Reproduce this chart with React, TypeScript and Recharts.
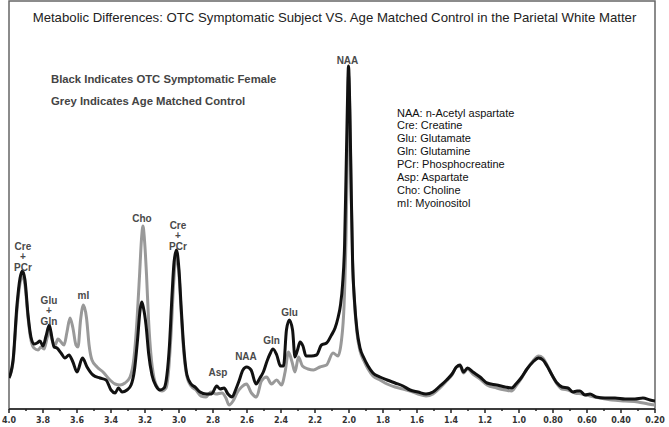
import { LineChart, Line, XAxis, YAxis, ReferenceArea, ReferenceDot } from "recharts";

// chemical shift (ppm) and signal (arbitrary units)
const otcPpm = [
  4.0, 3.976, 3.953, 3.935, 3.921, 3.906, 3.888, 3.871, 3.853, 3.835, 3.818, 3.8, 3.782, 3.763, 3.747, 3.735,
  3.718, 3.694, 3.671, 3.647, 3.624, 3.6, 3.568, 3.541, 3.506, 3.465, 3.429, 3.4, 3.376, 3.356, 3.335, 3.306,
  3.282, 3.262, 3.244, 3.229, 3.219, 3.209, 3.194, 3.179, 3.159, 3.135, 3.112, 3.088, 3.071, 3.056, 3.041, 3.029,
  3.015, 3.0, 2.988, 2.974, 2.953, 2.929, 2.906, 2.876, 2.841, 2.809, 2.778, 2.759, 2.735, 2.712, 2.688, 2.665,
  2.647, 2.624, 2.602, 2.576, 2.547, 2.524, 2.504, 2.482, 2.465, 2.447, 2.425, 2.403, 2.385, 2.368, 2.351, 2.332,
  2.318, 2.303, 2.288, 2.271, 2.253, 2.221, 2.191, 2.162, 2.132, 2.103, 2.082, 2.065, 2.05, 2.038, 2.026, 2.018,
  2.01, 2.003, 1.995, 1.988, 1.979, 1.968, 1.953, 1.935, 1.912, 1.888, 1.859, 1.818, 1.776, 1.729, 1.682, 1.641,
  1.594, 1.547, 1.506, 1.465, 1.426, 1.394, 1.368, 1.347, 1.326, 1.303, 1.271, 1.229, 1.188, 1.132, 1.082, 1.044,
  1.018, 0.988, 0.953, 0.918, 0.885, 0.859, 0.835, 0.806, 0.776, 0.747, 0.712, 0.682, 0.659, 0.641, 0.612, 0.582,
  0.547, 0.494, 0.435, 0.376, 0.318, 0.271, 0.229, 0.2,
];
const otcSignal = [
  31, 49, 104, 131, 138, 129, 94, 72, 65, 66, 68, 63, 73, 84, 71, 62,
  61, 56, 51, 54, 47, 37, 51, 42, 34, 31, 29, 19, 16, 21, 17, 19,
  24, 39, 69, 99, 107, 101, 84, 56, 34, 23, 19, 21, 34, 64, 114, 147,
  159, 139, 104, 66, 34, 25, 22, 17, 15, 15, 23, 20, 21, 15, 12, 20,
  28, 39, 42, 39, 25, 31, 37, 48, 55, 60, 54, 43, 43, 79, 89, 79,
  52, 59, 67, 63, 53, 53, 54, 64, 66, 74, 81, 91, 104, 124, 164, 229,
  299, 343, 299, 229, 149, 109, 79, 61, 51, 43, 36, 32, 29, 26, 23, 19,
  17, 15, 17, 23, 29, 35, 42, 44, 37, 41, 37, 32, 26, 24, 22, 21,
  25, 31, 40, 47, 51, 49, 43, 34, 26, 22, 21, 17, 18, 18, 14, 15,
  12, 11, 11, 10, 10, 11, 9, 8,
];

const controlPpm = [
  4.0, 3.976, 3.953, 3.935, 3.921, 3.906, 3.888, 3.871, 3.853, 3.829, 3.812, 3.794, 3.776, 3.762, 3.747, 3.729,
  3.712, 3.694, 3.676, 3.659, 3.641, 3.624, 3.606, 3.594, 3.579, 3.562, 3.544, 3.529, 3.512, 3.482, 3.447, 3.406,
  3.376, 3.347, 3.318, 3.288, 3.265, 3.247, 3.232, 3.221, 3.212, 3.203, 3.191, 3.179, 3.165, 3.147, 3.124, 3.1,
  3.076, 3.062, 3.047, 3.032, 3.018, 3.003, 2.988, 2.974, 2.953, 2.929, 2.9, 2.871, 2.841, 2.812, 2.782, 2.747,
  2.724, 2.706, 2.682, 2.659, 2.632, 2.603, 2.574, 2.544, 2.515, 2.485, 2.456, 2.426, 2.397, 2.376, 2.356, 2.335,
  2.318, 2.297, 2.274, 2.241, 2.209, 2.171, 2.132, 2.094, 2.065, 2.044, 2.029, 2.018, 2.009, 2.003, 1.995, 1.988,
  1.979, 1.968, 1.953, 1.935, 1.912, 1.888, 1.859, 1.818, 1.776, 1.729, 1.682, 1.641, 1.594, 1.547, 1.506, 1.465,
  1.426, 1.394, 1.368, 1.347, 1.326, 1.303, 1.271, 1.229, 1.188, 1.132, 1.082, 1.044, 1.018, 0.988, 0.953, 0.918,
  0.885, 0.859, 0.835, 0.806, 0.776, 0.747, 0.712, 0.671, 0.629, 0.582, 0.524, 0.453, 0.376, 0.3, 0.241, 0.2,
];
const controlSignal = [
  31, 47, 99, 126, 133, 124, 91, 69, 61, 59, 62, 60, 71, 79, 69, 64,
  70, 67, 64, 77, 91, 81, 64, 62, 89, 104, 91, 64, 49, 42, 37, 29,
  25, 24, 26, 32, 51, 89, 134, 169, 183, 169, 134, 89, 54, 31, 21, 18,
  21, 37, 74, 124, 151, 141, 99, 61, 32, 23, 19, 13, 12, 17, 15, 16,
  11, 4, 8, 16, 22, 25, 16, 12, 28, 32, 25, 29, 24, 37, 57, 47,
  37, 52, 43, 40, 39, 42, 44, 56, 53, 69, 104, 169, 259, 334, 294, 224,
  147, 107, 76, 58, 48, 40, 33, 29, 25, 22, 20, 18, 15, 13, 15, 21,
  28, 34, 42, 43, 36, 40, 35, 30, 24, 21, 19, 18, 23, 30, 40, 48,
  53, 51, 44, 34, 25, 20, 19, 16, 15, 13, 11, 9, 8, 7, 5, 4,
];

const ppmTicks = [
  4.0, 3.9, 3.8, 3.7, 3.6, 3.5, 3.4, 3.3, 3.2, 3.1, 3.0, 2.9, 2.8, 2.7, 2.6, 2.5, 2.4, 2.3, 2.2, 2.1,
  2.0, 1.9, 1.8, 1.7, 1.6, 1.5, 1.4, 1.3, 1.2, 1.1, 1.0, 0.9, 0.8, 0.7, 0.6, 0.5, 0.4, 0.3, 0.2,
];

const peakNames = [
  ["Cre", "+", "PCr"], ["Glu", "+", "Gln"], ["mI"], ["Cho"], ["Cre", "+", "PCr"],
  ["Asp"], ["NAA"], ["Gln"], ["Glu"], ["NAA"],
];
const peakLabelPpm = [3.918, 3.765, 3.562, 3.218, 3.006, 2.771, 2.606, 2.456, 2.35, 2.009];
const peakLabelSignal = [163, 109, 114, 191, 184, 37, 53, 69, 97, 349];

const abbreviations = [
  "NAA: n-Acetyl aspartate",
  "Cre: Creatine",
  "Glu: Glutamate",
  "Gln: Glutamine",
  "PCr: Phosphocreatine",
  "Asp: Aspartate",
  "Cho: Choline",
  "mI: Myoinositol",
];

const otcData = otcPpm.map((ppm, i) => ({ ppm, signal: otcSignal[i] }));
const controlData = controlPpm.map((ppm, i) => ({ ppm, signal: controlSignal[i] }));

const PpmTick = (props: any) => {
  const { x, y, payload } = props;
  const v = payload.value as number;
  const major = Math.round(v * 10) % 2 === 0;
  const label = v >= 1 ? v.toFixed(1) : v.toFixed(2);
  return (
    <g>
      <line x1={x} y1={y} x2={x} y2={y + (major ? 4 : 2)} stroke="#222" strokeWidth={1.5} />
      {major && (
        <text x={x} y={y + 13.5} textAnchor="middle" fontFamily="DejaVu Sans" fontWeight="bold" fontSize={8} fill="#333">
          {label}
        </text>
      )}
    </g>
  );
};

const peakLabel = (lines: string[]) => (props: any) => {
  const { cx, cy } = props;
  return (
    <g>
      {lines.map((t, i) => (
        <text
          key={i}
          x={cx}
          y={cy + i * 10.5}
          textAnchor="middle"
          dominantBaseline="central"
          fontFamily="Liberation Sans, Arial, sans-serif"
          fontWeight="bold"
          fontSize={10}
          fill="#4a4a4a"
        >
          {t}
        </text>
      ))}
    </g>
  );
};

export default function App() {
  return (
    <div style={{ position: "absolute", left: 0, top: 0, width: 669, height: 427, background: "#fff", fontFamily: "Liberation Sans, Arial, sans-serif" }}>
      <LineChart width={669} height={427} margin={{ top: 1, right: 14, bottom: 0, left: 9 }}>
        <XAxis
          type="number"
          dataKey="ppm"
          domain={[0.2, 4.0]}
          reversed
          allowDataOverflow
          ticks={ppmTicks}
          interval={0}
          height={18}
          tickSize={0}
          tickMargin={0}
          tickLine={false}
          tick={<PpmTick />}
          axisLine={{ stroke: "#222", strokeWidth: 1.5 }}
        />
        <YAxis hide domain={[0, 408]} allowDataOverflow />
        <ReferenceArea x1={4.0} x2={0.2} y1={0} y2={408} fill="none" stroke="#666" strokeWidth={1.5} />
        <Line data={controlData} dataKey="signal" type="monotone" stroke="#999" strokeWidth={3} dot={false} isAnimationActive={false} />
        <Line data={otcData} dataKey="signal" type="monotone" stroke="#111" strokeWidth={3} dot={false} isAnimationActive={false} />
        {peakNames.map((lines, i) => (
          <ReferenceDot key={i} x={peakLabelPpm[i]} y={peakLabelSignal[i]} r={0} shape={peakLabel(lines)} />
        ))}
      </LineChart>

      <div style={{ position: "absolute", left: 0, top: 10, width: 669, textAlign: "center", fontSize: 13.2, lineHeight: "15px", color: "#222", whiteSpace: "nowrap" }}>
        Metabolic Differences: OTC Symptomatic Subject VS. Age Matched Control in the Parietal White Matter
      </div>
      <div style={{ position: "absolute", left: 51, top: 72, fontSize: 11.3, fontWeight: "bold", lineHeight: "14px", color: "#444", whiteSpace: "nowrap" }}>
        Black Indicates OTC Symptomatic Female
      </div>
      <div style={{ position: "absolute", left: 51, top: 94, fontSize: 11.3, fontWeight: "bold", lineHeight: "14px", color: "#444", whiteSpace: "nowrap" }}>
        Grey Indicates Age Matched Control
      </div>
      <div style={{ position: "absolute", left: 397, top: 106.5, fontSize: 11, lineHeight: "12.9px", color: "#111", whiteSpace: "nowrap" }}>
        {abbreviations.map((a) => (
          <div key={a}>{a}</div>
        ))}
      </div>
    </div>
  );
}
